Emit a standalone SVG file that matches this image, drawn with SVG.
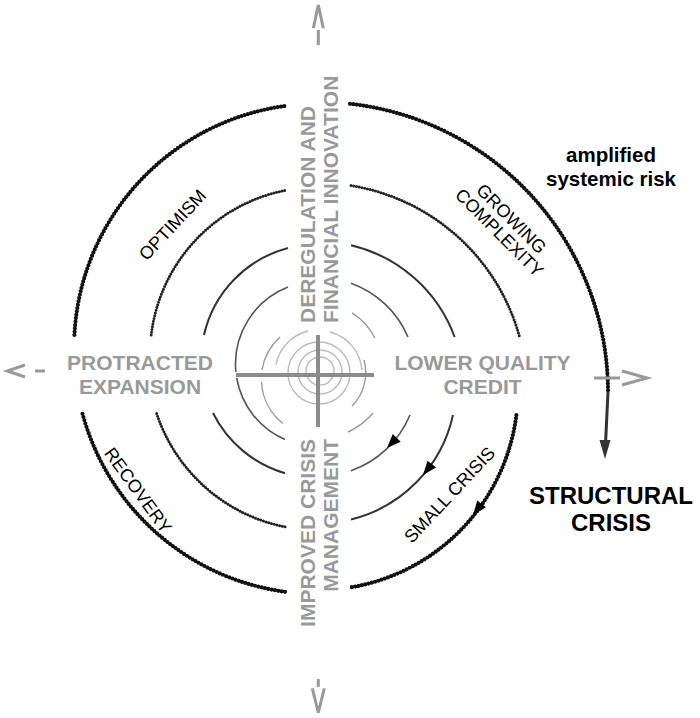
<svg xmlns="http://www.w3.org/2000/svg" width="700" height="718" viewBox="0 0 700 718">
<style>
.r1{fill:none;stroke:#111;stroke-width:4.2;stroke-dasharray:0 3.4;stroke-linecap:round}
.r2{fill:none;stroke:#222;stroke-width:3;stroke-dasharray:0 2.8;stroke-linecap:round}
.r3{fill:none;stroke:#333;stroke-width:2}
.r4{fill:none;stroke:#555;stroke-width:1.6}
.r5{fill:none;stroke:#999;stroke-width:1.4}
.r6{fill:none;stroke:#bbb;stroke-width:1.4}
.ax{fill:none;stroke:#999;stroke-width:3}
.cross{stroke:#8c8c8c;stroke-width:4}
.big{font-family:"Liberation Sans",Arial,sans-serif;font-weight:bold;font-size:21px;fill:#999}
.lab{font-family:"Liberation Sans",Arial,sans-serif;font-size:18px;fill:#000;text-anchor:middle}
.blk{font-family:"Liberation Sans",Arial,sans-serif;font-weight:bold;fill:#000;text-anchor:middle}
</style>
<defs>
<path id="ah" d="M0 0 L-14 -5.5 L-14 5.5 Z" fill="#000"/>
</defs>
<g id="connectors">
<path class="r1" d="M74.4 335 A244 244 0 0 1 285 106"/>
<path class="r2" d="M151.2 335 A168 168 0 0 1 287 190"/>
<path class="r3" d="M204 335 A117 117 0 0 1 288 248"/>
<path class="r4" d="M235.9 372 A82.5 82.5 0 0 1 288 287.1"/>
<path class="r5" d="M262 370 A56.6 56.6 0 0 1 280 337"/>
<path class="r1" d="M350 103.8 A290 290 0 0 1 608 392"/>
<path class="r2" d="M351 185.6 A209 209 0 0 1 519.6 337"/>
<path class="r3" d="M351 245.3 A145.5 145.5 0 0 1 454.6 337"/>
<path class="r4" d="M351 283.2 A98 98 0 0 1 408 337"/>
<path class="r5" d="M352 312.8 A64 64 0 0 1 375 338"/>
<path class="r1" d="M516.4 415 A200 200 0 0 1 351 587.3"/>
<path class="r3" d="M453 415 A138.2 138.2 0 0 1 351 519.5"/>
<path class="r4" d="M410 415 A99.7 99.7 0 0 1 351 470.7"/>
<path class="r5" d="M373 413 A72 72 0 0 1 348 432"/>
<path class="r1" d="M285 591.8 A244 244 0 0 1 82.3 413"/>
<path class="r2" d="M285 526.8 A170 170 0 0 1 156.5 413"/>
<path class="r3" d="M285 473.2 A117 117 0 0 1 213 413"/>
<path class="r4" d="M285 439.6 A82.5 82.5 0 0 1 236.7 378"/>
<path class="r5" d="M283 423.5 A56.6 56.6 0 0 1 261.5 382"/>
<circle class="r6" cx="320" cy="371" r="14"/>
<circle class="r6" cx="320" cy="372" r="22"/>
<circle class="r6" cx="319" cy="373" r="31"/>
<path class="r6" d="M276 365 A43 43 0 0 1 308 331"/>
<path class="r6" d="M330 332 A43 43 0 0 1 362 370"/>
<path class="r5" d="M364 360 A47 47 0 0 1 352 406"/>
<use href="#ah" transform="translate(473 515) rotate(128)"/>
<use href="#ah" transform="translate(423 475) rotate(129)"/>
<use href="#ah" transform="translate(387 448) rotate(134)"/>
<line x1="608" y1="392" x2="605.5" y2="444" stroke="#333" stroke-width="3"/>
<path d="M605 459 L599.5 440 L610.5 440 Z" fill="#333"/>
<line class="cross" x1="236" y1="375" x2="374" y2="375"/>
<line class="cross" x1="318" y1="335" x2="318" y2="427"/>
<path class="ax" d="M313.3 28.3 L318.3 5 L323.3 28.3 M318.3 30 V45"/>
<path class="ax" d="M312.3 688.3 L318.3 712.7 L324.3 688.3 M318.3 679 V687"/>
<path class="ax" d="M25 365 L7.3 371 L25 377 M35 371 H45"/>
<path class="ax" d="M594 378 H620 M622 371 L647 378 L622 385"/>
</g>
<g id="deregulation">
<text class="big" transform="translate(315 323) rotate(-90)">DEREGULATION AND</text>
<text class="big" transform="translate(338 323) rotate(-90)">FINANCIAL INNOVATION</text>
</g>
<g id="crisis-management">
<text class="big" text-anchor="end" transform="translate(315 439) rotate(-90)">IMPROVED CRISIS</text>
<text class="big" text-anchor="end" transform="translate(338 439) rotate(-90)">MANAGEMENT</text>
</g>
<g id="protracted">
<text class="big" text-anchor="middle" x="140" y="370">PROTRACTED</text>
<text class="big" text-anchor="middle" x="140" y="394">EXPANSION</text>
</g>
<g id="lower-quality">
<text class="big" text-anchor="middle" x="482.5" y="370">LOWER QUALITY</text>
<text class="big" text-anchor="middle" x="482.5" y="394">CREDIT</text>
</g>
<g id="optimism"><text class="lab" transform="translate(177 229) rotate(-47)">OPTIMISM</text></g>
<g id="growing">
<text class="lab" transform="translate(507 223) rotate(45)">GROWING</text>
<text class="lab" transform="translate(495 237) rotate(45)">COMPLEXITY</text>
</g>
<g id="small-crisis"><text class="lab" transform="translate(454 499) rotate(-47)">SMALL CRISIS</text></g>
<g id="recovery"><text class="lab" transform="translate(133 494) rotate(54)">RECOVERY</text></g>
<g id="amplified">
<text class="blk" font-size="20.5" x="611" y="162">amplified</text>
<text class="blk" font-size="20.5" x="611" y="186">systemic risk</text>
</g>
<g id="structural">
<text class="blk" font-size="24" x="611" y="504">STRUCTURAL</text>
<text class="blk" font-size="24" x="611" y="531">CRISIS</text>
</g>
</svg>
